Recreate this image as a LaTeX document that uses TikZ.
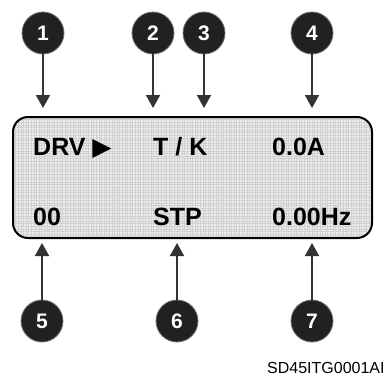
\documentclass[tikz,border=0pt]{standalone}
\usepackage{fontspec}
\setmainfont{Liberation Sans}
\newfontfamily\symfont{DejaVu Sans}
\usetikzlibrary{arrows.meta}
\begin{document}
\begin{tikzpicture}[x=1pt,y=-1pt,
  callout/.style={circle,fill=black!87,draw=black!55,line width=0.8pt,minimum size=42pt,inner sep=0pt,
    text=white,font=\fontsize{21}{21}\selectfont\bfseries},
  pointer/.style={draw=black!80,line width=2pt,-{Triangle[width=14pt,length=13pt]},shorten <=-1pt},
  lcd/.style={anchor=base west,inner sep=0pt,font=\fontsize{25}{25}\selectfont\bfseries},
]
\useasboundingbox (0,0) rectangle (390,376);
\fill[white] (0,0) rectangle (390,376);
% display
\begin{scope}
\clip[rounded corners=15pt] (13,117) rectangle (372,238);
\fill[gray!14] (13,117) rectangle (372,238);
\draw[gray!36,line width=0.35pt,step=2.6pt] (13,117) grid (372,238);
\end{scope}
\node[draw=black,line width=2pt,rounded corners=15pt,minimum width=359pt,minimum height=121pt,inner sep=0pt] (lcdbox) at (192.5,177.5) {};
% texts
\node[lcd] (drv) at (33,155) {DRV {\symfont\bfseries ▶}};
\node[lcd] (tk) at (153,155) {T / K};
\node[lcd] (amp) at (272,155) {0.0A};
\node[lcd] (num) at (33,225) {00};
\node[lcd] (stp) at (153,225) {STP};
\node[lcd] (hz) at (272,225) {0.00Hz};
% callouts
\node[callout] (c1) at (43,33) {1};
\node[callout] (c2) at (153,33) {2};
\node[callout] (c3) at (204,33) {3};
\node[callout] (c4) at (312,33) {4};
\node[callout] (c5) at (42,321) {5};
\node[callout] (c6) at (177,321) {6};
\node[callout] (c7) at (312,321) {7};
\coordinate (t1) at (43,108);
\coordinate (t2) at (153,108);
\coordinate (t3) at (204,108);
\coordinate (t4) at (312,108);
\coordinate (t5) at (42,243);
\coordinate (t6) at (177,243);
\coordinate (t7) at (312,243);
\draw[pointer] (c1) -- (t1);
\draw[pointer] (c2) -- (t2);
\draw[pointer] (c3) -- (t3);
\draw[pointer] (c4) -- (t4);
\draw[pointer] (c5) -- (t5);
\draw[pointer] (c6) -- (t6);
\draw[pointer] (c7) -- (t7);
\node[anchor=base west,inner sep=0pt,font=\fontsize{16}{16}\selectfont] (code) at (267,373) {SD45ITG0001AI};
\end{tikzpicture}
\end{document}
